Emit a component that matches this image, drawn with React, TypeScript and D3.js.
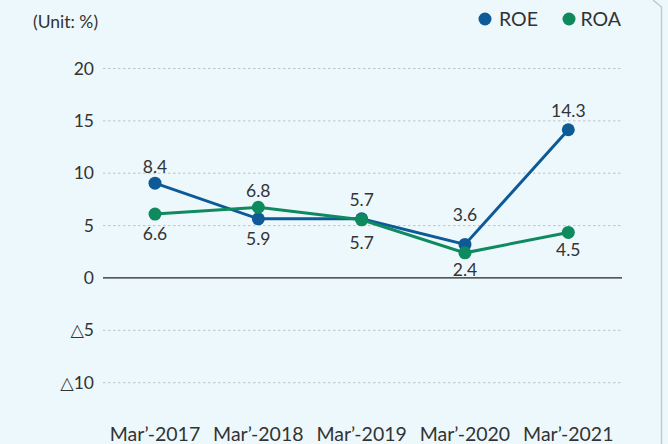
import React from "react";
import * as d3 from "d3";

const categories = ["Mar’-2017", "Mar’-2018", "Mar’-2019", "Mar’-2020", "Mar’-2021"];
const roeValues = [9.05, 5.65, 5.65, 3.2, 14.15];
const roaValues = [6.1, 6.75, 5.55, 2.4, 4.35];
const roeLabels = ["8.4", "5.9", "5.7", "3.6", "14.3"];
const roaLabels = ["6.6", "6.8", "5.7", "2.4", "4.5"];
const yTicks = [20, 15, 10, 5, 0, -5, -10];
const yTickLabels = ["20", "15", "10", "5", "0", "△5", "△10"];

// label placement: 1 = above, -1 = below
const roeLabelPos = [1, -1, 1, 1, 1];
const roaLabelPos = [-1, 1, -1, -1, -1];
const roeLabelShift = [0, 0, -3, -13, -3];
const roaLabelShift = [0, 0, 3, -3, -2];

const W = 668;
const H = 444;
const ROE_COLOR = "#0e5a97";
const ROA_COLOR = "#0f8a5f";
const TEXT = "#333333";
const FONT = "Lato, 'Noto Sans', 'DejaVu Sans', sans-serif";

export default function App() {
  const x = d3.scalePoint<string>().domain(categories).range([155, 568.3]);
  const y = d3.scaleLinear().domain([-10, 20]).range([382.7, 68.5]);

  const line = d3
    .line<number>()
    .x((_, i) => x(categories[i]) as number)
    .y((d) => y(d));

  const series = [
    { name: "ROE", values: roeValues, labels: roeLabels, pos: roeLabelPos, shift: roeLabelShift, color: ROE_COLOR },
    { name: "ROA", values: roaValues, labels: roaLabels, pos: roaLabelPos, shift: roaLabelShift, color: ROA_COLOR },
  ];

  return (
    <svg
      width={W}
      height={H}
      style={{ position: "absolute", left: 0, top: 0, background: "#edf8fc", fontFamily: FONT }}
    >
      <rect x={0} y={0} width={W} height={H} fill="#edf8fc" />
      {/* right border with clipped corner */}
      <path d="M653,0 L661.5,7 L661.5,444" fill="none" stroke="#c4c9cc" strokeWidth={1.5} />

      <text x={33} y={28} fontSize={17.5} fill={TEXT}>(Unit: %)</text>

      {/* legend */}
      <circle cx={485} cy={19} r={6.5} fill={ROE_COLOR} />
      <text x={499} y={26} fontSize={19.5} fill={TEXT}>ROE</text>
      <circle cx={569} cy={19} r={6.5} fill={ROA_COLOR} />
      <text x={580.5} y={26} fontSize={19.5} fill={TEXT}>ROA</text>

      {/* grid */}
      {yTicks.map((t, i) => (
        <g key={t}>
          <line
            x1={103}
            x2={622}
            y1={y(t)}
            y2={y(t)}
            stroke={t === 0 ? "#222" : "#bfc3c6"}
            strokeWidth={t === 0 ? 1.2 : 1}
            strokeDasharray={t === 0 ? undefined : "2.5,2.5"}
          />
          <text x={94} y={y(t) + 6} textAnchor="end" fontSize={17.5} fill={TEXT}>
            {yTickLabels[i]}
          </text>
        </g>
      ))}

      {/* x labels */}
      {categories.map((c) => (
        <text key={c} x={x(c)} y={441} textAnchor="middle" fontSize={19.5} fill={TEXT}>
          {c}
        </text>
      ))}

      {/* lines */}
      {series.map((s) => (
        <g key={s.name}>
          <path d={line(s.values) || ""} fill="none" stroke={s.color} strokeWidth={3} />
        </g>
      ))}
      {series.map((s) => (
        <g key={s.name + "pts"}>
          {s.values.map((v, i) => (
            <circle key={i} cx={x(categories[i])} cy={y(v)} r={6.5} fill={s.color} />
          ))}
        </g>
      ))}
      {series.map((s) => (
        <g key={s.name + "lbl"}>
          {s.values.map((v, i) => (
            <text
              key={i}
              x={x(categories[i])}
              y={y(v) + (s.pos[i] > 0 ? -10 : 26) + s.shift[i]}
              textAnchor="middle"
              fontSize={17.5}
              fill={TEXT}
            >
              {s.labels[i]}
            </text>
          ))}
        </g>
      ))}
    </svg>
  );
}
